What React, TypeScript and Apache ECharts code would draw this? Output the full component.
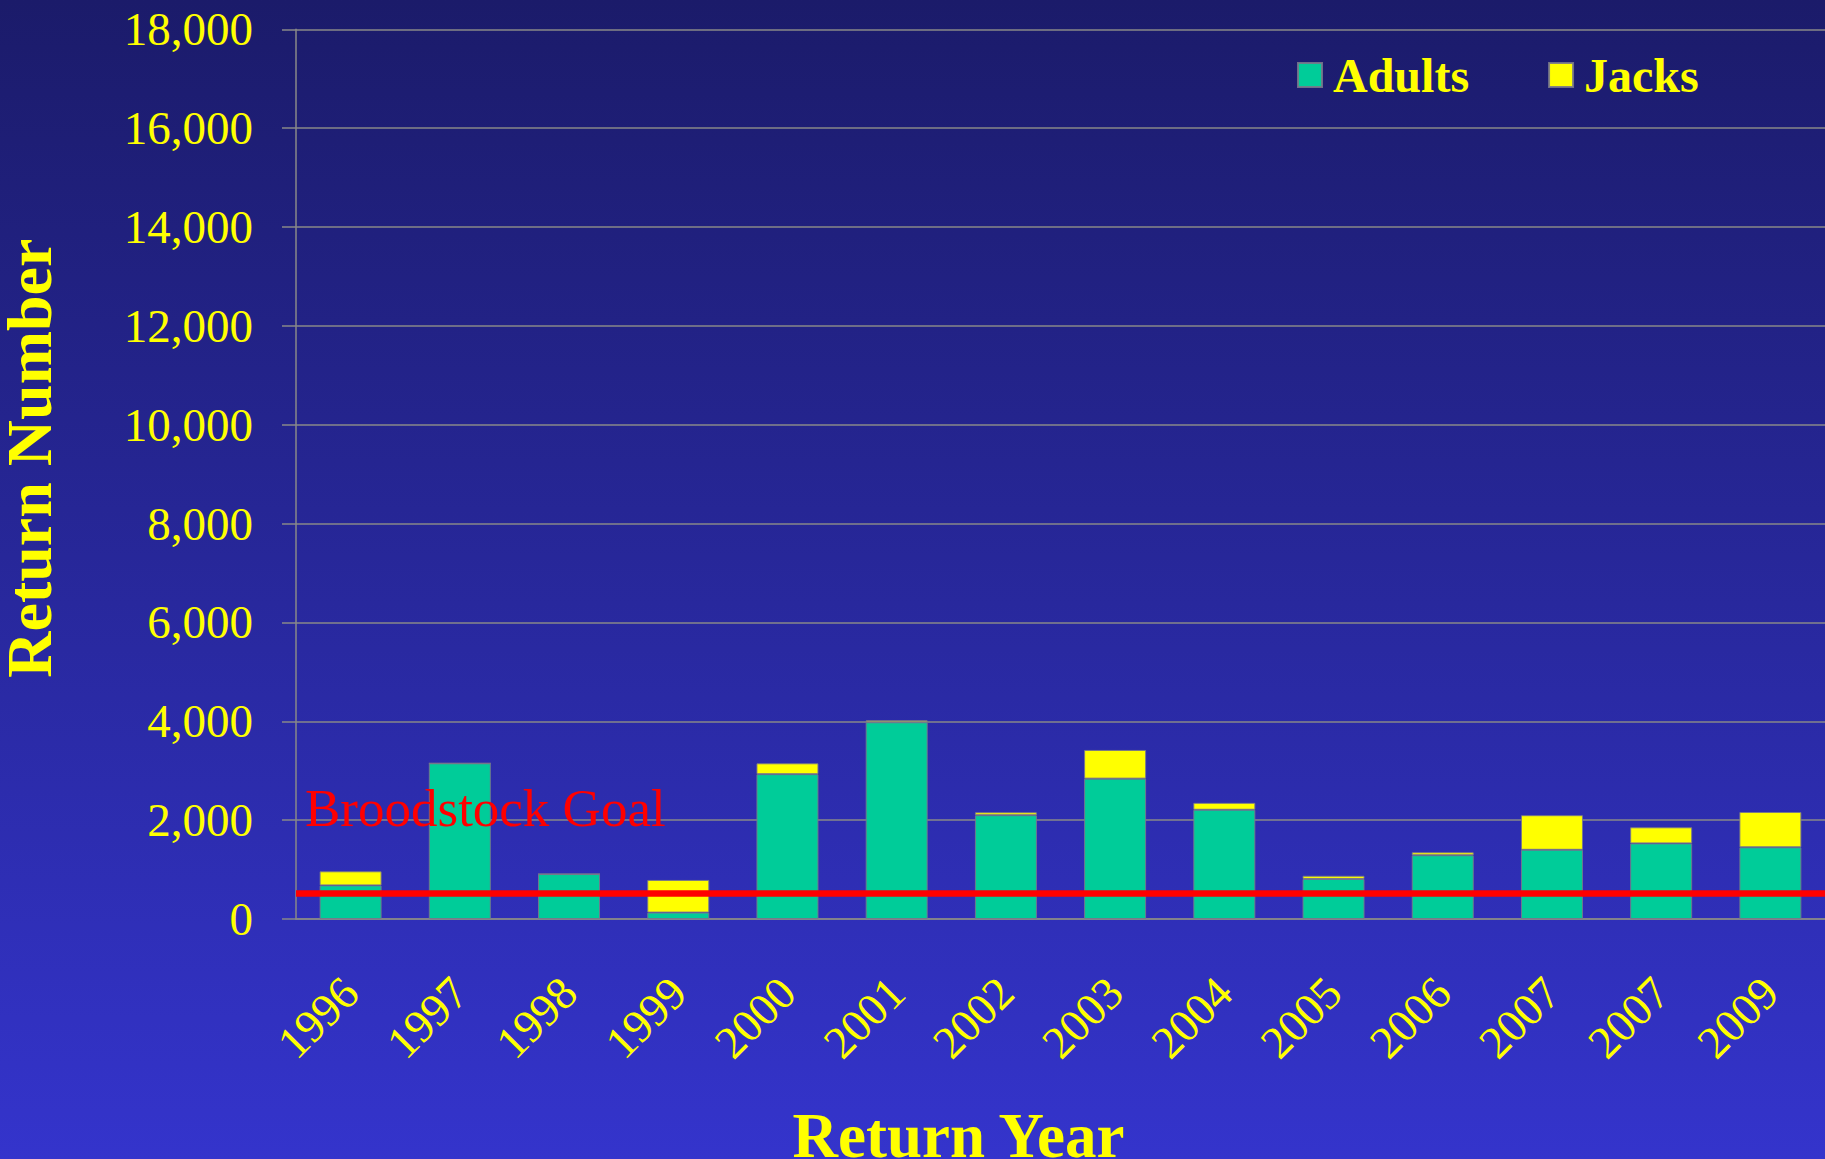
import React, { useEffect, useRef } from "react";
import * as echarts from "echarts";

const years = ["1996", "1997", "1998", "1999", "2000", "2001", "2002", "2003", "2004", "2005", "2006", "2007", "2007", "2009"];
const adults = [680, 3150, 910, 130, 2930, 3980, 2100, 2840, 2210, 810, 1290, 1400, 1530, 1450];
const jacks = [285, 0, 0, 660, 220, 40, 60, 580, 140, 65, 60, 700, 325, 715];
const broodstockGoal = 530;
const yMin = 0;
const yMax = 18000;
const yInterval = 2000;

const SERIF = "'Liberation Serif', 'Times New Roman', Times, serif";
const YELLOW = "#FFFF00";

export default function App() {
  const ref = useRef<HTMLDivElement>(null);

  useEffect(() => {
    document.body.style.margin = "0";
    if (!ref.current) return;
    const chart = echarts.init(ref.current, undefined, { renderer: "svg" });
    chart.setOption({
      animation: false,
      backgroundColor: {
        type: "linear",
        x: 0,
        y: 0,
        x2: 0,
        y2: 1,
        colorStops: [
          { offset: 0, color: "#1B1B6A" },
          { offset: 1, color: "#3434CC" },
        ],
      },
      textStyle: { fontFamily: SERIF },
      grid: {
        left: 296,
        right: 0,
        top: 29.3,
        bottom: 240,
        containLabel: false,
        outerBoundsMode: "none",
      },
      legend: {
        data: ["Adults", "Jacks"],
        left: 1297,
        top: 51,
        padding: 0,
        icon: "rect",
        itemWidth: 24,
        itemHeight: 24,
        itemGap: 79,
        textStyle: {
          color: YELLOW,
          fontWeight: "bold",
          fontSize: 48,
          fontFamily: SERIF,
          padding: [0, 0, 0, 6],
        },
      },
      xAxis: {
        type: "category",
        data: years,
        name: "Return Year",
        nameLocation: "middle",
        nameGap: 185,
        nameTextStyle: {
          color: YELLOW,
          fontSize: 63,
          fontWeight: "bold",
          fontFamily: SERIF,
          padding: [0, 204, 0, 0],
        },
        axisLine: { show: true, lineStyle: { color: "#888888", width: 1.5 } },
        axisTick: { show: false },
        axisLabel: {
          rotate: 45,
          margin: 66,
          color: YELLOW,
          fontSize: 46,
          fontFamily: SERIF,
          interval: 0,
        },
      },
      yAxis: {
        type: "value",
        min: yMin,
        max: yMax,
        interval: yInterval,
        name: "Return Number",
        nameLocation: "middle",
        nameGap: 235,
        nameRotate: 90,
        nameTextStyle: {
          color: YELLOW,
          fontSize: 64,
          fontWeight: "bold",
          fontFamily: SERIF,
          padding: [0, 0, 0, 32],
        },
        axisLine: { show: true, lineStyle: { color: "#888888", width: 1.5 } },
        axisTick: { show: true, inside: false, length: 14, lineStyle: { color: "#888888", width: 1.5 } },
        splitLine: { show: true, lineStyle: { color: "#888888", width: 1.5 } },
        axisLabel: {
          margin: 43,
          color: YELLOW,
          fontSize: 47,
          fontFamily: SERIF,
          formatter: (v: number) => v.toLocaleString("en-US"),
        },
      },
      series: [
        {
          name: "Adults",
          type: "bar",
          stack: "total",
          barWidth: 62,
          data: adults,
          itemStyle: { color: "#00CC99", borderColor: "rgba(120,120,140,0.9)", borderWidth: 1 },
        },
        {
          name: "Jacks",
          type: "bar",
          stack: "total",
          barWidth: 62,
          data: jacks,
          itemStyle: { color: "#FFFF00", borderColor: "rgba(120,120,140,0.9)", borderWidth: 1 },
          markLine: {
            silent: true,
            symbol: "none",
            z: 10,
            lineStyle: { color: "#FF0000", width: 6.5, type: "solid" },
            label: {
              show: true,
              position: "insideStartTop",
              formatter: "Broodstock Goal",
              color: "#FF0000",
              fontSize: 53,
              fontFamily: SERIF,
              distance: [9, 58],
            },
            data: [{ yAxis: broodstockGoal }],
          },
        },
      ],
    });
    return () => chart.dispose();
  }, []);

  return (
    <div
      ref={ref}
      style={{ width: 1825, height: 1159, position: "absolute", left: 0, top: 0 }}
    />
  );
}
